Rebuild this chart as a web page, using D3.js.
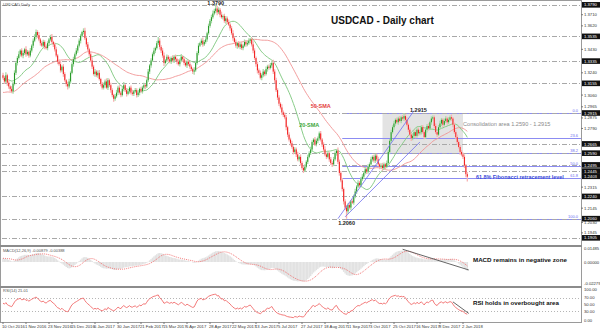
<!DOCTYPE html>
<html>
<head>
<meta charset="utf-8">
<script src="https://cdn.jsdelivr.net/npm/d3@7"></script>
<style>
body { margin: 0; background: #fff; }
svg { display: block; font-family: "Liberation Sans", Arial, sans-serif; }
</style>
</head>
<body>
<div id="chart"></div>
<script>
// Closes before the first visible bar (Aug 1 - Oct 7 2016), only used to warm up the indicators
var warmupCloses = [
  1.3150, 1.3170, 1.3120, 1.3080, 1.3160, 1.3140, 1.3100, 1.3020, 1.2990, 1.2970,
  1.2920, 1.2880, 1.2850, 1.2820, 1.2900, 1.2960, 1.2950, 1.2990, 1.3000, 1.3020,
  1.3080, 1.3110, 1.3120, 1.3090, 1.3080, 1.3050, 1.2930, 1.2870, 1.2900, 1.2990,
  1.3050, 1.3180, 1.3170, 1.3210, 1.3240, 1.3200, 1.3180, 1.3130, 1.3120, 1.3170,
  1.3210, 1.3250, 1.3180, 1.3140, 1.3120, 1.3180, 1.3190, 1.3230, 1.3250, 1.3220
];

// Daily closes, 10 Oct 2016 -> 5 Jan 2018
var closes = [
  1.3200, 1.3170, 1.3220, 1.3160, 1.3130, 1.3110, 1.3090, 1.3150, 1.3240, 1.3320,
  1.3360, 1.3390, 1.3420, 1.3380, 1.3400, 1.3430, 1.3390, 1.3410, 1.3380, 1.3420,
  1.3460, 1.3500, 1.3530, 1.3570, 1.3545, 1.3510, 1.3480, 1.3460, 1.3490, 1.3450,
  1.3440, 1.3480, 1.3510, 1.3530, 1.3490, 1.3470, 1.3430, 1.3380, 1.3330, 1.3310,
  1.3260, 1.3290, 1.3230, 1.3180, 1.3150, 1.3130, 1.3170, 1.3240, 1.3310, 1.3350,
  1.3390, 1.3420, 1.3460, 1.3500, 1.3540, 1.3570, 1.3580, 1.3520, 1.3470, 1.3430,
  1.3390, 1.3340, 1.3290, 1.3230, 1.3250, 1.3220, 1.3240, 1.3190, 1.3150, 1.3120,
  1.3140, 1.3170, 1.3120, 1.3180, 1.3140, 1.3100, 1.3060, 1.3030, 1.3050, 1.3080,
  1.3120, 1.3080, 1.3060, 1.3110, 1.3140, 1.3100, 1.3070, 1.3090, 1.3120, 1.3080,
  1.3070, 1.3090, 1.3100, 1.3060, 1.3080, 1.3110, 1.3090, 1.3120, 1.3140, 1.3130,
  1.3180, 1.3250, 1.3300, 1.3340, 1.3390, 1.3420, 1.3440, 1.3480, 1.3500, 1.3450,
  1.3420, 1.3380, 1.3320, 1.3340, 1.3370, 1.3350, 1.3330, 1.3360, 1.3340, 1.3370,
  1.3350, 1.3330, 1.3310, 1.3340, 1.3370, 1.3350, 1.3320, 1.3300, 1.3330, 1.3310,
  1.3290, 1.3270, 1.3250, 1.3260, 1.3320, 1.3400, 1.3460, 1.3480, 1.3500, 1.3470,
  1.3490, 1.3510, 1.3560, 1.3620, 1.3660, 1.3690, 1.3720, 1.3740, 1.3760, 1.3730,
  1.3750, 1.3710, 1.3690, 1.3700, 1.3660, 1.3680, 1.3650, 1.3630, 1.3600, 1.3560,
  1.3520, 1.3490, 1.3460, 1.3480, 1.3450, 1.3470, 1.3440, 1.3460, 1.3490, 1.3470,
  1.3480, 1.3500, 1.3510, 1.3470, 1.3420, 1.3360, 1.3310, 1.3260, 1.3240, 1.3200,
  1.3220, 1.3250, 1.3230, 1.3270, 1.3290, 1.3280, 1.3300, 1.3320, 1.3250, 1.3180,
  1.3100, 1.3040, 1.2990, 1.2960, 1.2920, 1.2900, 1.2880, 1.2800, 1.2740, 1.2700,
  1.2670, 1.2640, 1.2600, 1.2620, 1.2580, 1.2540, 1.2560, 1.2510, 1.2470, 1.2450,
  1.2480, 1.2520, 1.2560, 1.2590, 1.2620, 1.2680, 1.2700, 1.2660, 1.2690, 1.2710,
  1.2750, 1.2700, 1.2660, 1.2620, 1.2580, 1.2560, 1.2590, 1.2540, 1.2510, 1.2500,
  1.2540, 1.2590, 1.2610, 1.2520, 1.2430, 1.2370, 1.2300, 1.2200, 1.2150, 1.2120,
  1.2170, 1.2150, 1.2200, 1.2190, 1.2240, 1.2280, 1.2320, 1.2350, 1.2330, 1.2380,
  1.2400, 1.2430, 1.2460, 1.2440, 1.2480, 1.2500, 1.2540, 1.2560, 1.2530, 1.2570,
  1.2540, 1.2500, 1.2480, 1.2490, 1.2470, 1.2500, 1.2480, 1.2510, 1.2600, 1.2690,
  1.2760, 1.2800, 1.2830, 1.2860, 1.2840, 1.2870, 1.2850, 1.2880, 1.2870, 1.2890,
  1.2860, 1.2820, 1.2780, 1.2740, 1.2710, 1.2730, 1.2760, 1.2730, 1.2780, 1.2750,
  1.2760, 1.2800, 1.2760, 1.2720, 1.2780, 1.2810, 1.2790, 1.2840, 1.2870, 1.2880,
  1.2810, 1.2760, 1.2740, 1.2800, 1.2830, 1.2860, 1.2820, 1.2850, 1.2870, 1.2840,
  1.2860, 1.2880, 1.2870, 1.2820, 1.2760, 1.2720, 1.2680, 1.2640, 1.2600, 1.2580,
  1.2560, 1.2490, 1.2420, 1.2400
];

// upper / lower shadows in pips
var wickUp = [
  20,15,25,12,18,10,22,15,20,12, 15,25,10,18,20,12,25,15,10,20,
  12,18,22,20,15,25,12,20,18,14, 20,15,12,18,25,10,15,20,12,18,
  25,12,20,15,10,18,22,12,15,20, 15,20,12,18,15,10,20,25,15,20,
  12,18,25,15,20,12,18,22,10,15, 20,15,25,18,12,20,15,10,18,22,
  15,20,12,18,25,10,15,20,12,18, 20,12,18,15,22,10,18,15,20,12,
  15,20,12,18,15,22,12,18,30,20, 15,20,25,12,18,15,20,12,22,15,
  18,12,20,15,22,10,15,20,12,18, 20,15,12,25,18,15,20,12,18,25,
  15,20,12,18,15,20,25,18,30,22, 20,15,25,12,18,20,15,22,12,18,
  25,15,20,12,18,15,22,12,20,15, 18,20,12,15,25,18,12,20,15,18,
  15,20,12,22,15,18,20,15,25,18, 20,15,18,12,25,15,20,18,12,20,
  15,20,12,18,15,22,12,20,15,18, 20,12,18,15,22,15,12,20,18,15,
  15,20,12,18,25,15,20,12,18,15, 20,15,12,25,18,15,20,12,18,20,
  15,20,12,18,15,22,12,20,15,18, 20,15,18,12,20,15,22,12,18,15,
  15,20,12,18,22,15,12,20,18,15, 20,15,22,12,18,15,20,12,18,25,
  15,20,12,18,15,22,12,20,15,18, 20,15,18,12,20,15,22,12,18,15,
  15,20,12,18,22,15,12,20,18,15, 20,15,22,12,18,15,20,12,18,15,
  15,20,12,18
];
var wickDn = [
  15,20,12,25,18,22,15,20,12,18, 20,12,18,15,22,15,20,12,18,15,
  15,20,12,18,22,15,20,12,18,20, 12,18,20,15,12,22,18,15,20,12,
  18,15,22,12,20,25,15,18,12,20, 20,12,18,15,22,12,18,15,20,15,
  18,15,20,12,22,15,20,12,18,15, 15,20,12,18,15,22,18,25,15,12,
  20,15,18,12,20,15,22,12,18,15, 15,18,12,20,15,22,12,18,15,20,
  12,15,20,18,12,15,20,12,15,22, 20,18,25,12,15,20,12,18,15,20,
  15,20,12,18,15,22,18,12,20,15, 18,15,20,25,12,15,18,12,15,20,
  12,15,18,12,15,20,12,15,18,25, 15,20,12,18,15,22,18,12,20,15,
  20,15,18,25,12,20,15,18,12,20, 15,12,20,18,22,15,20,25,18,15,
  20,15,18,12,20,15,12,18,20,22, 15,20,18,15,22,18,15,25,20,15,
  18,15,20,12,22,15,18,20,15,20, 12,15,18,12,15,20,18,12,15,20,
  18,15,20,22,15,18,12,20,15,22, 15,12,20,18,22,15,20,25,18,60,
  20,15,22,12,18,15,20,12,18,15, 15,20,12,18,15,20,12,18,15,20,
  18,15,20,12,22,15,18,12,15,18, 15,12,20,18,15,20,12,18,15,20,
  18,15,20,12,22,15,18,20,15,20, 15,20,12,18,15,22,18,12,20,15,
  18,15,20,12,15,20,18,12,15,20, 15,12,18,20,15,18,20,12,22,15,
  18,20,25,40
];

// x-axis labels, one every 16 bars
var dateLabels = ["10 Oct 2016", "1 Nov 2016", "23 Nov 2016", "15 Dec 2016", "6 Jan 2017",
  "30 Jan 2017", "21 Feb 2017", "15 Mar 2017", "6 Apr 2017", "28 Apr 2017", "22 May 2017",
  "13 Jun 2017", "5 Jul 2017", "27 Jul 2017", "18 Aug 2017", "11 Sep 2017", "3 Oct 2017",
  "25 Oct 2017", "16 Nov 2017", "8 Dec 2017", "2 Jan 2018"];

// horizontal levels drawn on the chart (dash-dot) and price scale labels
var levels = [1.3790, 1.3535, 1.3335, 1.3155, 1.2915, 1.2665, 1.2590, 1.2495, 1.2445, 1.2240, 1.2060, 1.1905];
var priceTicks = [1.3710, 1.3620, 1.3430, 1.3240, 1.3060, 1.2965, 1.2875, 1.2790, 1.2315, 1.2145, 1.2030, 1.1945];
var lastPrice = 1.2403;

// Fibonacci retracement 1.2060 -> 1.2915
var fibHigh = 1.2915, fibLow = 1.2060;
var fibLevels = [0, 23.6, 38.2, 50.0, 61.8, 100.0];

var macdTicks = [0.01485, 0.00000, -0.02279];
var rsiTicks = [100, 70, 50, 30, 0];
var rsiLevels = [70, 30];

// annotation trend lines: [bar index, value]
var fibLine = [[233, 1.2060], [286, 1.2935]];
var supportLine = [[238, 1.2075], [290, 1.2680]];
var macdTrend = [[278, 0.0126], [324, -0.0079]];
var rsiTrend = [[313, 58], [324, 23]];

// ---------- layout ----------
var width = 600, height = 331;
var plotLeft = 2, plotRight = 581;
var mainTop = 2, mainBottom = 245;
var macdTop = 247, macdBottom = 285;
var rsiTop = 288, rsiBottom = 321;

var svg = d3.select("#chart").append("svg")
  .attr("width", width)
  .attr("height", height);

var x = d3.scaleLinear().domain([0, 320]).range([3, 463]);
var y = d3.scaleLinear().domain([1.1847, 1.3813]).range([mainBottom, mainTop]);
var yMacd = d3.scaleLinear().domain([-0.02279, 0.01485]).range([macdBottom, macdTop]);
var yRsi = d3.scaleLinear().domain([0, 100]).range([rsiBottom, rsiTop]);

// ---------- indicators ----------
var all = warmupCloses.concat(closes);
var off = warmupCloses.length;

function smaAt(arr, n, j) {
  return d3.mean(arr.slice(j - n + 1, j + 1));
}
function ema(arr, n) {
  var k = 2 / (n + 1), out = [arr[0]];
  for (var j = 1; j < arr.length; j++) out.push(out[j - 1] + k * (arr[j] - out[j - 1]));
  return out;
}
var ema12 = ema(all, 12), ema26 = ema(all, 26);
var macdMain = all.map(function(d, j) { return ema12[j] - ema26[j]; });
var macdSignal = macdMain.map(function(d, j) { return j < 8 ? d : smaAt(macdMain, 9, j); });

var rsi = [];
(function() {
  var g = 0, l = 0;
  for (var j = 1; j <= 14; j++) {
    var ch = all[j] - all[j - 1];
    if (ch > 0) g += ch; else l -= ch;
  }
  g /= 14; l /= 14;
  for (var j = 0; j < all.length; j++) {
    if (j > 14) {
      var ch = all[j] - all[j - 1];
      g = (g * 13 + Math.max(ch, 0)) / 14;
      l = (l * 13 + Math.max(-ch, 0)) / 14;
    }
    rsi.push(l === 0 ? 100 : 100 - 100 / (1 + g / l));
  }
})();

var bars = closes.map(function(c, i) {
  var o = i === 0 ? warmupCloses[off - 1] : closes[i - 1];
  return {
    i: i, o: o, c: c,
    h: Math.max(o, c) + wickUp[i] / 10000,
    l: Math.min(o, c) - wickDn[i] / 10000,
    sma20: smaAt(all, 20, i + off),
    sma50: smaAt(all, 50, i + off),
    macd: macdMain[i + off],
    signal: macdSignal[i + off],
    rsi: rsi[i + off]
  };
});

// ---------- main panel ----------
svg.append("clipPath").attr("id", "clipMain")
  .append("rect").attr("x", plotLeft).attr("y", mainTop)
  .attr("width", plotRight - plotLeft).attr("height", mainBottom - mainTop);

var main = svg.append("g").attr("clip-path", "url(#clipMain)");

// consolidation area
main.append("rect")
  .attr("x", x(264)).attr("y", y(1.2915))
  .attr("width", x(320) - x(264)).attr("height", y(1.2590) - y(1.2915))
  .attr("fill", "#e3e3e3");

// fibonacci levels
var fibPrice = function(l) { return fibHigh - (fibHigh - fibLow) * l / 100; };
main.selectAll(".fib").data(fibLevels).enter().append("line")
  .attr("x1", x(236)).attr("x2", plotRight)
  .attr("y1", function(d) { return Math.round(y(fibPrice(d))) + 0.5; })
  .attr("y2", function(d) { return Math.round(y(fibPrice(d))) + 0.5; })
  .attr("stroke", "#8c8cf2").attr("stroke-width", 1);

// dash-dot levels
main.selectAll(".lvl").data(levels).enter().append("line")
  .attr("x1", plotLeft).attr("x2", plotRight)
  .attr("y1", function(d) { return Math.round(y(d)) + 0.5; })
  .attr("y2", function(d) { return Math.round(y(d)) + 0.5; })
  .attr("stroke", "#a8a8a8").attr("stroke-width", 1)
  .attr("stroke-dasharray", "5,2,1,2");

main.selectAll(".fibtxt").data(fibLevels).enter().append("text")
  .attr("x", plotRight - 3).attr("y", function(d) { return y(fibPrice(d)) - 1; })
  .attr("text-anchor", "end").attr("font-size", 4).attr("fill", "#6b6bf0")
  .text(function(d) { return d.toFixed(1); });

// moving averages
var line = d3.line().x(function(d) { return x(d.i); });
main.append("path").datum(bars)
  .attr("d", line.y(function(d) { return y(d.sma50); }))
  .attr("fill", "none").attr("stroke", "#f19393").attr("stroke-width", 0.9);
main.append("path").datum(bars)
  .attr("d", line.y(function(d) { return y(d.sma20); }))
  .attr("fill", "none").attr("stroke", "#7cc67c").attr("stroke-width", 0.9);

// candles
var candle = main.selectAll(".candle").data(bars).enter().append("g");
candle.append("line")
  .attr("x1", function(d) { return x(d.i); }).attr("x2", function(d) { return x(d.i); })
  .attr("y1", function(d) { return y(d.h); }).attr("y2", function(d) { return y(d.l); })
  .attr("stroke", function(d) { return d.c >= d.o ? "#a8dca8" : "#f8b2b2"; })
  .attr("stroke-width", 1.3);
candle.append("rect")
  .attr("x", function(d) { return x(d.i) - 0.5; }).attr("width", 1)
  .attr("y", function(d) { return y(Math.max(d.o, d.c)); })
  .attr("height", function(d) { return Math.max(1, Math.abs(y(d.o) - y(d.c))); })
  .attr("fill", function(d) { return d.c >= d.o ? "#239623" : "#f21c1c"; });

// blue trend lines
[fibLine, supportLine].forEach(function(pts) {
  main.append("line")
    .attr("x1", x(pts[0][0])).attr("y1", y(pts[0][1]))
    .attr("x2", x(pts[1][0])).attr("y2", y(pts[1][1]))
    .attr("stroke", "#6f6ff0").attr("stroke-width", 0.8);
});

// chart texts
svg.append("text").attr("x", 3).attr("y", 6).attr("font-size", 4).attr("fill", "#555")
  .text("USDCAD,Daily");
svg.append("text").attr("x", 331).attr("y", 24).attr("font-size", 10).attr("font-weight", "bold")
  .attr("fill", "#111").text("USDCAD - Daily chart");
svg.append("text").attr("x", x(148)).attr("y", y(1.3790) + 0.5).attr("text-anchor", "middle")
  .attr("font-size", 5.5).attr("font-weight", "bold").attr("fill", "#222").text("1.3790");
svg.append("text").attr("x", x(289)).attr("y", y(1.2915) - 1).attr("text-anchor", "middle")
  .attr("font-size", 5.5).attr("font-weight", "bold").attr("fill", "#222").text("1.2915");
svg.append("text").attr("x", x(239)).attr("y", y(1.2060) + 6.5).attr("text-anchor", "middle")
  .attr("font-size", 5.5).attr("font-weight", "bold").attr("fill", "#222").text("1.2060");
svg.append("text").attr("x", x(214)).attr("y", y(1.2955)).attr("font-size", 5.5)
  .attr("font-weight", "bold").attr("fill", "#e43c3c").text("50-SMA");
svg.append("text").attr("x", x(206)).attr("y", y(1.2802)).attr("font-size", 5.5)
  .attr("font-weight", "bold").attr("fill", "#3aa63a").text("20-SMA");
svg.append("text").attr("x", 463).attr("y", 126).attr("font-size", 5.6)
  .attr("fill", "#8a8a8a").text("Consolidation area 1.2590 - 1.2915");
svg.append("text").attr("x", 476).attr("y", 179).attr("font-size", 5.4)
  .attr("font-weight", "bold").attr("fill", "#3a4ad8").text("61.8% Fibonacci retracement level");

// ---------- MACD panel ----------
var macdG = svg.append("g");
macdG.selectAll("rect").data(bars).enter().append("rect")
  .attr("x", function(d) { return x(d.i) - 0.75; }).attr("width", 1.5)
  .attr("y", function(d) { return Math.min(yMacd(0), yMacd(d.macd)); })
  .attr("height", function(d) { return Math.abs(yMacd(d.macd) - yMacd(0)); })
  .attr("fill", "#e2e2e2");
macdG.append("path").datum(bars)
  .attr("d", d3.line().x(function(d) { return x(d.i); }).y(function(d) { return yMacd(d.signal); }))
  .attr("fill", "none").attr("stroke", "#f06a6a").attr("stroke-width", 0.9)
  .attr("stroke-dasharray", "1,1");
macdG.append("line")
  .attr("x1", x(macdTrend[0][0])).attr("y1", yMacd(macdTrend[0][1]))
  .attr("x2", x(macdTrend[1][0])).attr("y2", yMacd(macdTrend[1][1]))
  .attr("stroke", "#555").attr("stroke-width", 0.9);
var lastBar = bars[bars.length - 1];
svg.append("text").attr("x", 3).attr("y", 252).attr("font-size", 4).attr("fill", "#555")
  .text("MACD(12,26,9) " + lastBar.macd.toFixed(5) + " " + lastBar.signal.toFixed(5));
svg.append("text").attr("x", 473).attr("y", 262).attr("font-size", 6.2)
  .attr("font-weight", "bold").attr("fill", "#111").text("MACD remains in negative zone");

// ---------- RSI panel ----------
var rsiG = svg.append("g");
rsiG.selectAll("line.lv").data(rsiLevels).enter().append("line")
  .attr("x1", plotLeft).attr("x2", plotRight)
  .attr("y1", function(d) { return Math.round(yRsi(d)) + 0.5; })
  .attr("y2", function(d) { return Math.round(yRsi(d)) + 0.5; })
  .attr("stroke", "#b5b5b5").attr("stroke-dasharray", "1,2");
rsiG.append("path").datum(bars)
  .attr("d", d3.line().x(function(d) { return x(d.i); }).y(function(d) { return yRsi(d.rsi); }))
  .attr("fill", "none").attr("stroke", "#f06a6a").attr("stroke-width", 0.9);
rsiG.append("line")
  .attr("x1", x(rsiTrend[0][0])).attr("y1", yRsi(rsiTrend[0][1]))
  .attr("x2", x(rsiTrend[1][0])).attr("y2", yRsi(rsiTrend[1][1]))
  .attr("stroke", "#555").attr("stroke-width", 0.9);
svg.append("text").attr("x", 3).attr("y", 292).attr("font-size", 4).attr("fill", "#555")
  .text("RSI(14) " + lastBar.rsi.toFixed(2));
svg.append("text").attr("x", 473).attr("y", 305).attr("font-size", 6.2)
  .attr("font-weight", "bold").attr("fill", "#111").text("RSI holds in overbought area");

// ---------- frames ----------
svg.append("rect").attr("x", 0.5).attr("y", 0.5).attr("width", plotRight).attr("height", rsiBottom + 1)
  .attr("fill", "none").attr("stroke", "#9a9a9a");
svg.append("rect").attr("x", 0).attr("y", mainBottom).attr("width", plotRight + 1).attr("height", 2).attr("fill", "#8c8c8c");
svg.append("rect").attr("x", 0).attr("y", macdBottom + 1).attr("width", plotRight + 1).attr("height", 2).attr("fill", "#8c8c8c");

// ---------- right price axis ----------
var axisG = svg.append("g").attr("font-size", 4.2);
axisG.selectAll("text.pt").data(priceTicks).enter().append("text")
  .attr("x", 584).attr("y", function(d) { return y(d) + 1.5; })
  .attr("fill", "#333").text(function(d) { return d.toFixed(4); });
axisG.selectAll("line.pt").data(priceTicks).enter().append("line")
  .attr("x1", plotRight).attr("x2", plotRight + 2)
  .attr("y1", function(d) { return y(d); }).attr("y2", function(d) { return y(d); })
  .attr("stroke", "#777");
var hl = axisG.selectAll("g.hl").data(levels.concat([lastPrice])).enter().append("g")
  .attr("transform", function(d) { return "translate(582," + y(d) + ")"; });
hl.append("rect").attr("x", 0).attr("y", -2.8).attr("width", 18).attr("height", 5.6).attr("fill", "#111");
hl.append("text").attr("x", 2).attr("y", 1.6).attr("fill", "#fff")
  .text(function(d) { return d.toFixed(4); });

// MACD / RSI scale labels; end labels are nudged inside their panel
axisG.selectAll("text.mt").data(macdTicks).enter().append("text")
  .attr("x", 584).attr("y", function(d, k) { return yMacd(d) + (k === macdTicks.length - 1 ? -0.5 : 2.5); })
  .attr("fill", "#333").text(function(d) { return d.toFixed(5); });
axisG.selectAll("text.rt").data(rsiTicks).enter().append("text")
  .attr("x", 584).attr("y", function(d, k) { return yRsi(d) + (k === 0 ? 2.8 : k === rsiTicks.length - 1 ? 0.5 : 1.5); })
  .attr("fill", "#333").text(function(d) { return d.toFixed(2); });

// ---------- date axis ----------
var dateG = svg.append("g").attr("font-size", 4.2).attr("fill", "#333");
dateG.selectAll("text").data(dateLabels).enter().append("text")
  .attr("x", function(d, k) { return x(k * 16) - 1; }).attr("y", 328)
  .text(function(d) { return d; });
dateG.selectAll("line").data(dateLabels).enter().append("line")
  .attr("x1", function(d, k) { return x(k * 16); }).attr("x2", function(d, k) { return x(k * 16); })
  .attr("y1", rsiBottom + 1).attr("y2", rsiBottom + 3).attr("stroke", "#777");
</script>
</body>
</html>
